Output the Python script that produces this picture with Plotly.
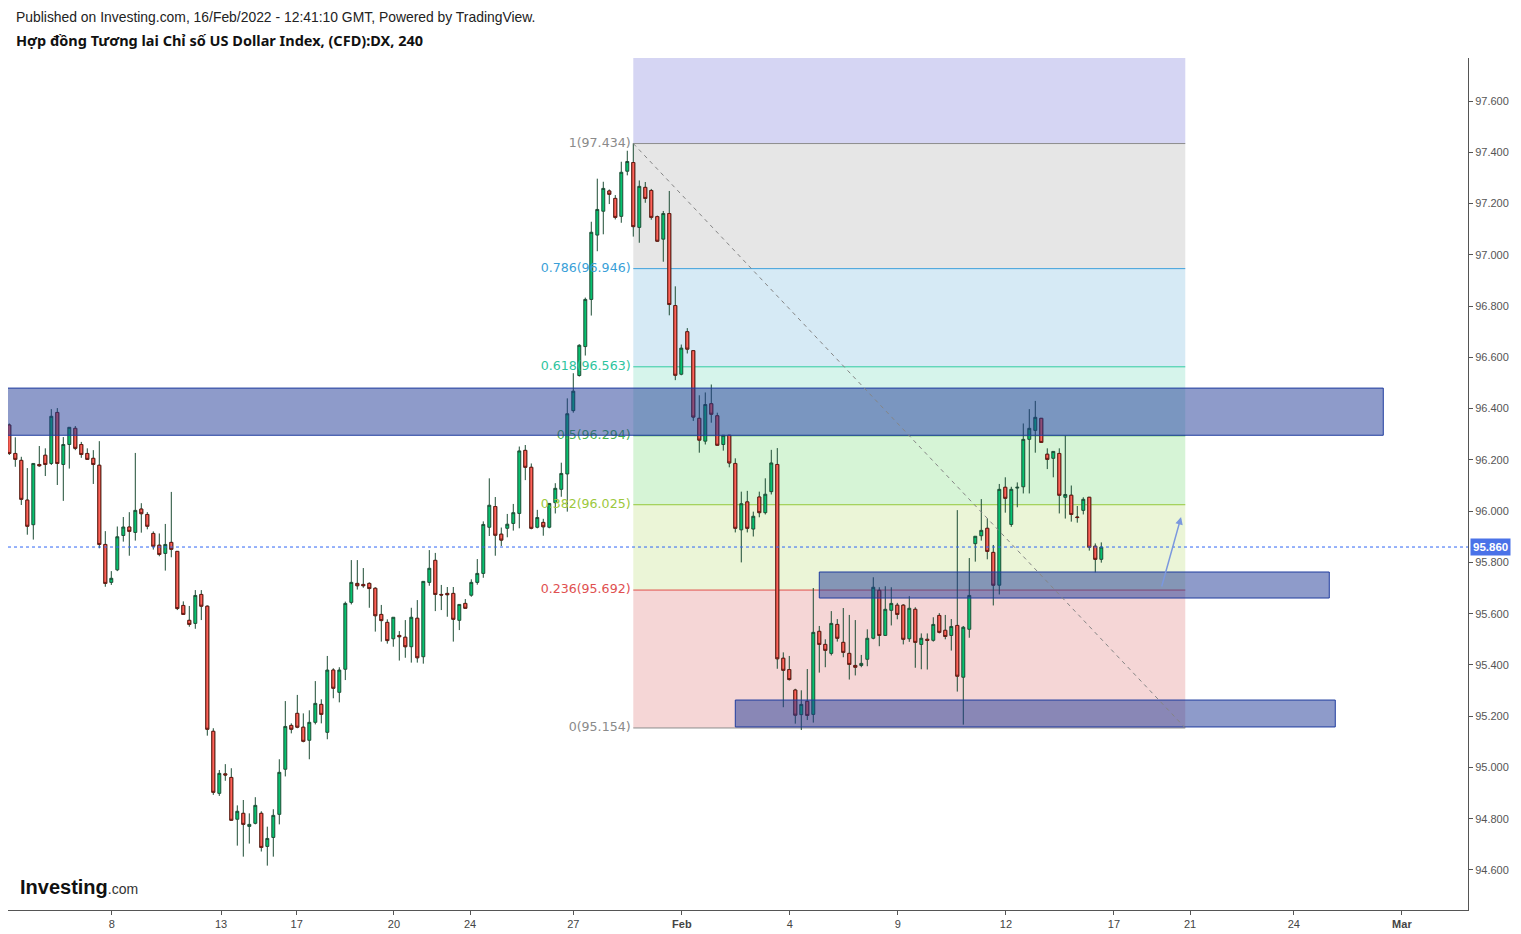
import plotly.graph_objects as go

# ---------------- data (4h candles, index order) ----------------
OPEN = [96.336, 96.225, 96.198, 96.043, 95.947, 96.182, 96.218, 96.186, 96.385, 96.182,
        96.260, 96.323, 96.260, 96.225, 96.206, 96.179, 95.870, 95.722, 95.771, 95.905,
        95.938, 95.917, 96.008, 95.987, 95.913, 95.867, 95.835, 95.878, 95.843, 95.632,
        95.574, 95.562, 95.675, 95.629, 95.141, 94.899, 94.975, 94.961, 94.798, 94.821,
        94.770, 94.782, 94.821, 94.692, 94.727, 94.817, 94.993, 95.164, 95.211, 95.157,
        95.106, 95.176, 95.246, 95.137, 95.380, 95.293, 95.383, 95.644, 95.718, 95.714,
        95.718, 95.699, 95.597, 95.566, 95.502, 95.515, 95.508, 95.471, 95.582, 95.432,
        95.722, 95.808, 95.675, 95.679, 95.679, 95.574, 95.640, 95.672, 95.722, 95.757,
        95.937, 96.018, 95.910, 95.933, 95.952, 95.991, 96.237, 96.171, 95.937, 95.956,
        95.937, 96.033, 96.085, 96.145, 96.392, 96.529, 96.642, 96.826, 97.077, 97.170,
        97.249, 97.220, 97.150, 97.326, 97.360, 97.107, 97.263, 97.251, 97.149, 97.061,
        97.161, 96.802, 96.534, 96.700, 96.626, 96.362, 96.273, 96.419, 96.372, 96.260,
        96.296, 96.186, 95.927, 96.036, 95.930, 96.055, 95.994, 96.076, 96.182, 95.426,
        95.382, 95.302, 95.206, 95.258, 95.207, 95.531, 95.480, 95.445, 95.558, 95.488,
        95.445, 95.398, 95.398, 95.422, 95.504, 95.691, 95.515, 95.613, 95.633, 95.633,
        95.502, 95.617, 95.480, 95.500, 95.496, 95.593, 95.535, 95.515, 95.554, 95.352,
        95.539, 95.873, 95.904, 95.933, 95.839, 95.711, 96.093, 95.948, 96.090, 96.095,
        96.280, 96.315, 96.362, 96.222, 96.206, 96.225, 96.054, 96.062, 95.977, 96.003,
        96.054, 95.863, 95.812]
HIGH = [96.342, 96.288, 96.212, 96.168, 96.186, 96.254, 96.245, 96.398, 96.402, 96.289,
        96.327, 96.332, 96.270, 96.245, 96.238, 96.273, 95.922, 95.766, 95.940, 95.977,
        95.996, 96.227, 96.031, 95.996, 95.921, 95.913, 95.950, 96.075, 95.843, 95.648,
        95.630, 95.692, 95.692, 95.632, 95.153, 94.990, 95.013, 94.997, 94.852, 94.873,
        94.821, 94.884, 94.829, 94.769, 94.837, 95.032, 95.259, 95.172, 95.283, 95.211,
        95.223, 95.337, 95.266, 95.435, 95.387, 95.391, 95.647, 95.809, 95.809, 95.778,
        95.722, 95.703, 95.634, 95.578, 95.586, 95.532, 95.575, 95.623, 95.653, 95.726,
        95.848, 95.837, 95.712, 95.704, 95.704, 95.636, 95.657, 95.734, 95.813, 95.960,
        96.128, 96.055, 95.936, 95.989, 96.028, 96.252, 96.258, 96.186, 96.005, 95.970,
        96.030, 96.109, 96.189, 96.440, 96.538, 96.651, 96.833, 97.129, 97.297, 97.285,
        97.255, 97.233, 97.363, 97.406, 97.434, 97.290, 97.284, 97.257, 97.153, 97.171,
        97.249, 96.877, 96.650, 96.714, 96.626, 96.452, 96.463, 96.494, 96.384, 96.296,
        96.296, 96.206, 96.076, 96.079, 95.998, 96.076, 96.128, 96.239, 96.246, 95.449,
        95.435, 95.307, 95.301, 95.384, 95.700, 95.552, 95.500, 95.610, 95.579, 95.622,
        95.595, 95.575, 95.439, 95.539, 95.742, 95.703, 95.707, 95.703, 95.642, 95.637,
        95.668, 95.625, 95.523, 95.523, 95.586, 95.602, 95.595, 95.579, 96.004, 95.552,
        95.817, 95.902, 96.047, 95.972, 95.868, 96.106, 96.132, 96.095, 96.112, 96.342,
        96.398, 96.430, 96.362, 96.245, 96.233, 96.245, 96.294, 96.100, 96.020, 96.054,
        96.054, 95.874, 95.878]
LOW = [96.219, 96.173, 96.024, 95.908, 95.889, 96.173, 96.137, 96.180, 96.102, 96.040,
       96.166, 96.238, 96.208, 96.200, 96.106, 95.855, 95.705, 95.712, 95.766, 95.881,
       95.826, 95.885, 95.916, 95.929, 95.850, 95.824, 95.768, 95.820, 95.614, 95.595,
       95.549, 95.541, 95.575, 95.124, 94.893, 94.889, 94.948, 94.794, 94.695, 94.652,
       94.703, 94.778, 94.672, 94.617, 94.652, 94.778, 94.965, 95.133, 95.153, 95.098,
       95.032, 95.168, 95.172, 95.110, 95.270, 95.254, 95.341, 95.636, 95.694, 95.701,
       95.623, 95.530, 95.491, 95.483, 95.471, 95.417, 95.428, 95.409, 95.409, 95.405,
       95.709, 95.610, 95.614, 95.588, 95.491, 95.536, 95.621, 95.666, 95.713, 95.740,
       95.903, 95.826, 95.864, 95.898, 95.924, 95.933, 96.121, 95.929, 95.933, 95.904,
       95.933, 95.991, 96.056, 95.998, 96.384, 96.525, 96.607, 96.763, 97.014, 97.080,
       97.198, 97.138, 97.125, 97.310, 97.071, 97.047, 97.203, 97.137, 97.050, 96.973,
       96.764, 96.511, 96.530, 96.615, 96.352, 96.228, 96.260, 96.345, 96.257, 96.236,
       96.171, 95.917, 95.800, 95.917, 95.901, 95.976, 95.987, 96.065, 95.385, 95.235,
       95.339, 95.171, 95.146, 95.185, 95.175, 95.370, 95.391, 95.437, 95.491, 95.430,
       95.343, 95.359, 95.391, 95.395, 95.500, 95.473, 95.513, 95.554, 95.578, 95.480,
       95.490, 95.389, 95.383, 95.382, 95.491, 95.523, 95.500, 95.456, 95.296, 95.167,
       95.506, 95.803, 95.885, 95.812, 95.632, 95.675, 95.994, 95.939, 96.015, 96.069,
       96.069, 96.228, 96.268, 96.164, 96.132, 95.991, 95.971, 95.959, 95.955, 95.987,
       95.846, 95.761, 95.799]
CLOSE = [96.225, 96.202, 96.046, 95.941, 96.186, 96.177, 96.182, 96.370, 96.186, 96.260,
         96.327, 96.245, 96.221, 96.202, 96.182, 95.870, 95.718, 95.738, 95.900, 95.938,
         95.921, 96.003, 95.990, 95.941, 95.863, 95.831, 95.870, 95.851, 95.620, 95.597,
         95.558, 95.671, 95.629, 95.149, 94.903, 94.977, 94.971, 94.794, 94.829, 94.778,
         94.778, 94.852, 94.688, 94.723, 94.813, 94.981, 95.160, 95.149, 95.157, 95.102,
         95.176, 95.250, 95.207, 95.380, 95.309, 95.380, 95.640, 95.722, 95.709, 95.709,
         95.698, 95.592, 95.573, 95.495, 95.586, 95.510, 95.471, 95.586, 95.428, 95.726,
         95.777, 95.675, 95.673, 95.674, 95.578, 95.636, 95.621, 95.722, 95.757, 95.948,
         96.023, 95.906, 95.887, 95.949, 95.994, 96.235, 96.171, 95.933, 95.975, 95.939,
         96.030, 96.089, 96.147, 96.380, 96.468, 96.647, 96.826, 97.088, 97.177, 97.259,
         97.236, 97.146, 97.322, 97.364, 97.110, 97.267, 97.220, 97.146, 97.053, 97.161,
         96.806, 96.530, 96.636, 96.632, 96.367, 96.277, 96.416, 96.378, 96.257, 96.296,
         96.188, 95.933, 96.029, 95.933, 95.980, 95.994, 96.066, 96.188, 95.424, 95.379,
         95.343, 95.204, 95.246, 95.203, 95.527, 95.480, 95.457, 95.562, 95.504, 95.449,
         95.402, 95.391, 95.406, 95.504, 95.703, 95.515, 95.617, 95.640, 95.597, 95.500,
         95.621, 95.488, 95.504, 95.496, 95.558, 95.527, 95.511, 95.550, 95.356, 95.547,
         95.671, 95.902, 95.925, 95.843, 95.711, 96.085, 96.050, 96.085, 96.093, 96.280,
         96.323, 96.366, 96.268, 96.202, 96.233, 96.062, 96.065, 95.987, 95.975, 96.046,
         95.859, 95.812, 95.860]

X_TICK_POS = [17.1, 35.3, 47.9, 64.1, 76.8, 94.0, 112.1, 130.1, 148.1, 166.1, 184.1, 196.8, 214.1, 232.1]
X_TICK_TEXT = ["8", "13", "17", "20", "24", "27", "<b>Feb</b>", "4", "9", "12", "17", "21", "24", "<b>Mar</b>"]
Y_TICKS = [94.6, 94.8, 95.0, 95.2, 95.4, 95.6, 95.8, 96.0, 96.2, 96.4, 96.6, 96.8, 97.0, 97.2, 97.4, 97.6]

LAST_PRICE = 95.860

# Fibonacci retracement drawing (anchor candle index / price)
FIB_X0, FIB_X1 = 104, 196
FIB_HIGH, FIB_LOW = 97.434, 95.154
FIB_RATIOS = [1, 0.786, 0.618, 0.5, 0.382, 0.236, 0]
FIB_BAND_COLORS = ["#d5d5f3", "#e6e6e6", "#d6eaf5", "#d6f4eb", "#d6f4d6", "#ebf5d7", "#f5d6d6"]
FIB_LINE_COLORS = ["#8c8c8c", "#3ea0dc", "#2fcaa0", "#4caf50", "#94c83a", "#e0504b", "#8c8c8c"]
FIB_TEXT_COLORS = ["#8a8a8a", "#3a9fd8", "#2ec49e", "#47b04a", "#9cc83c", "#e05050", "#8a8a8a"]

# support / resistance zones: (x0, x1, price_low, price_high)
ZONES = [(-5, 229, 96.296, 96.480),
         (135, 220, 95.661, 95.7625),
         (121, 221, 95.158, 95.263)]

ARROW = dict(x0=192, y0=95.70, x1=195.3, y1=95.977)

N = len(OPEN)
X = list(range(N))

fig = go.Figure()

# fib bands & lines (below everything)
levels = [FIB_LOW + r * (FIB_HIGH - FIB_LOW) for r in FIB_RATIOS]
band_edges = [FIB_LOW + 1.618 * (FIB_HIGH - FIB_LOW)] + levels
for i, col in enumerate(FIB_BAND_COLORS):
    fig.add_shape(type="rect", xref="x", yref="y", x0=FIB_X0, x1=FIB_X1,
                  y0=band_edges[i + 1], y1=band_edges[i], fillcolor=col,
                  line=dict(width=0), layer="below")
for lvl, col in zip(levels, FIB_LINE_COLORS):
    fig.add_shape(type="line", xref="x", yref="y", x0=FIB_X0, x1=FIB_X1,
                  y0=lvl, y1=lvl, line=dict(color=col, width=1), layer="below")

labels = [f"{r}({lvl:.3f})" for r, lvl in zip(FIB_RATIOS, levels)]
fig.add_trace(go.Scatter(x=[FIB_X0 - 0.45] * len(levels), y=levels, mode="text", text=labels,
                         textposition="middle left",
                         textfont=dict(family="DejaVu Sans", size=12.6, color=FIB_TEXT_COLORS),
                         hoverinfo="skip", showlegend=False, cliponaxis=False))

# zones
for (x0, x1, ylo, yhi) in ZONES:
    fig.add_trace(go.Scatter(x=[x0, x1, x1, x0, x0], y=[ylo, ylo, yhi, yhi, ylo],
                             mode="lines", fill="toself",
                             fillcolor="rgba(30,55,150,0.5)",
                             line=dict(color="#1f3c9e", width=1),
                             hoverinfo="skip", showlegend=False))

GREEN = "#06c270"
RED = "#ff6359"
WICK = "#1d4d35"
RED_EDGE = "#6a1a14"

fig.add_trace(go.Candlestick(
    x=X, open=OPEN, high=HIGH, low=LOW, close=CLOSE,
    increasing=dict(line=dict(color=WICK, width=1), fillcolor=GREEN),
    decreasing=dict(line=dict(color=WICK, width=1), fillcolor=RED),
    hoverinfo="skip", showlegend=False))

# red body outlines
dx, do, dh, dl, dc = [], [], [], [], []
for i in range(N):
    if CLOSE[i] < OPEN[i]:
        dx.append(i); do.append(OPEN[i]); dh.append(OPEN[i]); dl.append(CLOSE[i]); dc.append(CLOSE[i])
fig.add_trace(go.Candlestick(
    x=dx, open=do, high=dh, low=dl, close=dc,
    increasing=dict(line=dict(color=RED_EDGE, width=1), fillcolor=RED),
    decreasing=dict(line=dict(color=RED_EDGE, width=1), fillcolor=RED),
    hoverinfo="skip", showlegend=False))

# fib trend line
fig.add_trace(go.Scatter(x=[FIB_X0, FIB_X1], y=[FIB_HIGH, FIB_LOW], mode="lines",
                         line=dict(color="#858585", width=1, dash="4px,4px"),
                         hoverinfo="skip", showlegend=False))

# last price line
fig.add_shape(type="line", xref="paper", yref="y", x0=0, x1=1, y0=LAST_PRICE, y1=LAST_PRICE,
              line=dict(color="#2f66f5", width=1, dash="dot"), layer="above")

# arrow
fig.add_annotation(x=ARROW["x1"], y=ARROW["y1"], ax=ARROW["x0"], ay=ARROW["y0"],
                   xref="x", yref="y", axref="x", ayref="y", text="", showarrow=True,
                   arrowhead=2, arrowsize=1, arrowwidth=1.5, arrowcolor="#7b98de")

# price label on axis
fig.add_annotation(xref="paper", yref="y", x=1, y=LAST_PRICE, xanchor="left", xshift=2,
                   text=f"<b>{LAST_PRICE:.3f}</b>", showarrow=False, bgcolor="#4a72e8",
                   font=dict(family="Liberation Sans, Arial", size=11.5, color="white"),
                   borderpad=2)

PLOT_TOP, PLOT_BOTTOM, PLOT_LEFT, PLOT_W = 58, 910, 8, 1460
def px_y(py):
    return (PLOT_BOTTOM - py) / (PLOT_BOTTOM - PLOT_TOP)
def px_x(px):
    return (px - PLOT_LEFT) / PLOT_W

# header
fig.add_annotation(xref="paper", yref="paper", x=px_x(14), y=px_y(17),
                   xanchor="left", yanchor="middle", showarrow=False,
                   text="Published on Investing.com, 16/Feb/2022 - 12:41:10 GMT, Powered by TradingView.",
                   font=dict(family="Liberation Sans, Arial", size=13.9, color="#222222"))
fig.add_annotation(xref="paper", yref="paper", x=px_x(14), y=px_y(40),
                   xanchor="left", yanchor="middle", showarrow=False,
                   text="<b>Hợp đồng Tương lai Chỉ số US Dollar Index, (CFD):DX, 240</b>",
                   font=dict(family="Noto Sans", size=14.5, color="#111111"))
# logo
fig.add_annotation(xref="paper", yref="paper", x=px_x(18), y=px_y(887),
                   xanchor="left", yanchor="middle", showarrow=False,
                   text="<b>Investing</b><span style='font-size:14px;color:#333'>.com</span>",
                   font=dict(family="Liberation Sans, Arial", size=20, color="#111111"))

fig.update_layout(
    width=1521, height=934, autosize=False,
    margin=dict(l=8, r=53, t=58, b=24, autoexpand=False),
    paper_bgcolor="white", plot_bgcolor="white",
    showlegend=False,
    xaxis=dict(range=[-0.217, 243.12], showgrid=False, zeroline=False, automargin=False,
               tickmode="array", tickvals=X_TICK_POS, ticktext=X_TICK_TEXT,
               ticks="outside", ticklen=4, tickcolor="#555", showline=True, linecolor="#555",
               tickfont=dict(family="Liberation Sans, Arial", size=11, color="#444"),
               rangeslider=dict(visible=False), fixedrange=True),
    yaxis=dict(range=[94.4439, 97.7678], side="right", showgrid=False, zeroline=False,
               automargin=False,
               tickmode="array", tickvals=Y_TICKS, tickformat=".3f",
               ticks="outside", ticklen=4, tickcolor="#555", showline=True, linecolor="#555",
               tickfont=dict(family="Liberation Sans, Arial", size=11, color="#555"),
               fixedrange=True),
)

fig.write_html("out.html")
